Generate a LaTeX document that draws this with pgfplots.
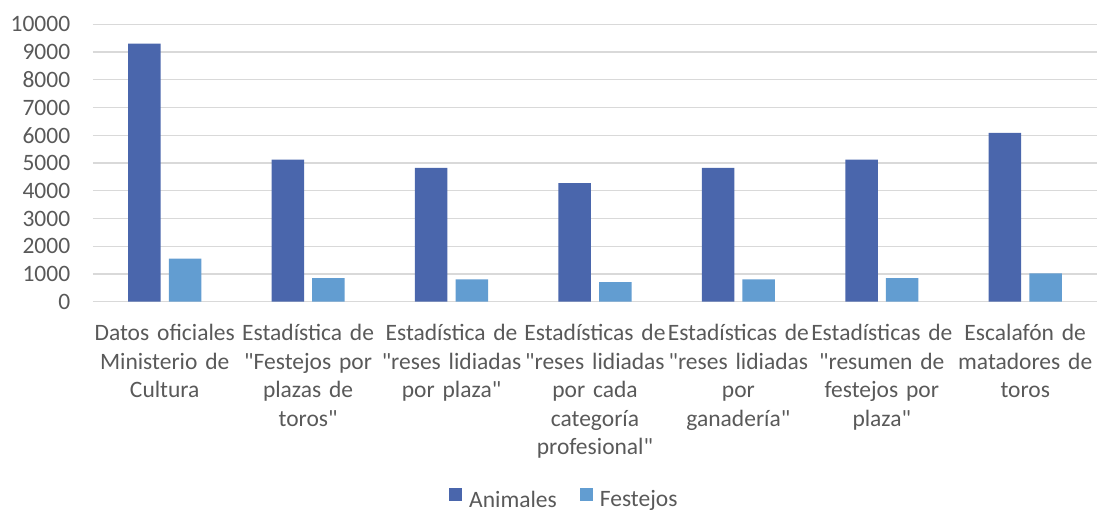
\documentclass[border=0pt]{standalone}
\usepackage{fontspec}
\setmainfont{Carlito}[Ligatures=TeXOff]
\usepackage{pgfplots}
\pgfplotsset{compat=1.18}
\definecolor{animales}{HTML}{4A66AC}
\definecolor{festejos}{HTML}{629DD1}
\definecolor{gridc}{HTML}{D9D9D9}
\definecolor{txt}{HTML}{595959}
\newcommand{\q}{"}
\begin{document}
\begin{tikzpicture}
\useasboundingbox (-93pt,-211.3pt) rectangle (1005pt,301.7pt);
\begin{axis}[
  at={(0pt,0pt)}, anchor=south west,
  scale only axis, width=1004pt, height=277.4pt,
  ymin=0, ymax=10000, xmin=-0.5, xmax=6.5,
  ytick={0,1000,...,10000},
  xtick={0,1,2,3,4,5,6},
  xticklabels={
    {\strut Datos oficiales\\Ministerio de\\Cultura},
    {\strut Estadística de\\\q Festejos por\\plazas de\\toros\q},
    {\strut Estadística de\\\q reses lidiadas\\por plaza\q},
    {\strut Estadísticas de\\\q reses lidiadas\\por cada\\categoría\\profesional\q},
    {\strut Estadísticas de\\\q reses lidiadas\\por\\ganadería\q},
    {\strut Estadísticas de\\\q resumen de\\festejos por\\plaza\q},
    {\strut Escalafón de\\matadores de\\toros}},
  scaled y ticks=false,
  /pgf/number format/assume math mode=true,
  yticklabel style={/pgf/number format/1000 sep={}, anchor=east, inner sep=0pt, xshift=-22.6pt,
    font=\fontsize{23.5}{28.5}\selectfont, text=txt},
  xticklabel style={text width=143pt, align=center, anchor=north, inner sep=0pt, yshift=-19pt,
    font=\fontsize{23.5}{28.5}\selectfont, text=txt},
  axis line style={draw=none},
  major tick length=0pt,
  tick style={draw=none},
  ymajorgrids, grid style={draw=gridc, line width=1.2pt},
  ybar, bar width=32.5pt,
  legend columns=2,
  legend style={at={(0.4685,-0.708)}, anchor=center, draw=none, fill=none,
    font=\fontsize{23.5}{28.5}\selectfont, text=txt, inner sep=0pt,
    nodes={inner sep=0pt},
    /tikz/every odd column/.append style={column sep=7pt},
    /tikz/every even column/.append style={column sep=23pt}},
  legend image code/.code={\fill[#1] (0pt,-1pt) rectangle (13pt,12pt);},
]
\addplot[fill=animales, draw=none, bar shift=-20.3pt] coordinates {
  (0,9300) (1,5120) (2,4820) (3,4270) (4,4820) (5,5120) (6,6090)};
\addplot[fill=festejos, draw=none, bar shift=20.3pt] coordinates {
  (0,1550) (1,853) (2,805) (3,709) (4,805) (5,853) (6,1022)};
\legend{Animales, Festejos}
\end{axis}
\end{tikzpicture}
\end{document}
